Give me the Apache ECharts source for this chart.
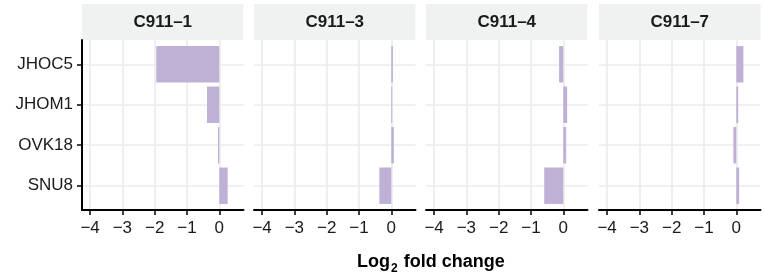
<!DOCTYPE html>
<html>
<head>
<meta charset="utf-8">
<script src="https://cdn.jsdelivr.net/npm/echarts@6/dist/echarts.min.js"></script>
<style>
  html, body { margin: 0; padding: 0; background: #fff; }
  #chart { width: 764px; height: 275px; }
</style>
</head>
<body>
<div id="chart"></div>
<script>
// data
const cellLines = ["JHOC5", "JHOM1", "OVK18", "SNU8"];
const panels = ["C911–1", "C911–3", "C911–4", "C911–7"];
const xTicks = [-4, -3, -2, -1, 0];
const fc_1 = [-1.95, -0.38, -0.04, 0.26];
const fc_3 = [0.05, 0.03, 0.08, -0.37];
const fc_4 = [-0.13, 0.12, 0.09, -0.59];
const fc_7 = [0.22, 0.06, -0.09, 0.09];
const values = [fc_1, fc_3, fc_4, fc_7];

const font = "'Liberation Sans', Arial, sans-serif";
const barColor = "#bfb0d6";
const gridColor = "#ebebeb";
const panelLeft = [82, 254, 426, 599];
const panelW = 161.5;
const plotTop = 40, plotH = 170;

const chart = echarts.init(document.getElementById("chart"));

const grids = [], xAxes = [], yAxes = [], series = [], graphics = [];
panels.forEach((name, i) => {
  grids.push({ left: panelLeft[i], top: plotTop, width: panelW, height: plotH });
  xAxes.push({
    type: "value", gridIndex: i, min: -4.25, max: 0.75,
    axisLine: { show: true, onZero: false, lineStyle: { color: "#000", width: 2 } },
    axisTick: { show: true, length: 5, customValues: xTicks, lineStyle: { color: "#000", width: 1.5 } },
    axisLabel: {
      customValues: xTicks, margin: 10, color: "#1a1a1a", fontSize: 17, fontFamily: font,
      formatter: v => (v < 0 ? "\u2212" + Math.abs(v) : String(v))
    },
    splitLine: { show: true, lineStyle: { color: gridColor, width: 1.6 } }
  });
  yAxes.push({
    type: "value", gridIndex: i, min: 0.4, max: 4.6, inverse: true,
    axisLine: { show: i === 0, onZero: false, lineStyle: { color: "#000", width: 2 } },
    axisTick: { show: i === 0, length: 5, customValues: [1, 2, 3, 4], lineStyle: { color: "#000", width: 1.5 } },
    axisLabel: {
      show: i === 0, customValues: [1, 2, 3, 4], margin: 9, color: "#1a1a1a", fontSize: 17, fontFamily: font,
      formatter: v => cellLines[Math.round(v) - 1] || ""
    },
    splitLine: { show: true, lineStyle: { color: gridColor, width: 1.6 } }
  });
  series.push({
    type: "custom", xAxisIndex: i, yAxisIndex: i,
    encode: { x: 0, y: 1 },
    data: values[i].map((v, k) => [v, k + 1]),
    renderItem: (params, api) => {
      const v = api.value(0), row = api.value(1);
      const p0 = api.coord([0, row]);
      const p1 = api.coord([v, row]);
      const h = api.size([0, 0.9])[1];
      return {
        type: "rect",
        shape: { x: Math.min(p0[0], p1[0]), y: p0[1] - h / 2, width: Math.abs(p1[0] - p0[0]), height: h },
        style: { fill: barColor }
      };
    }
  });
  // facet strip
  graphics.push({
    type: "rect", left: panelLeft[i], top: 4,
    shape: { width: panelW, height: 36 }, style: { fill: "#f0f1f1" }
  });
  graphics.push({
    type: "text", x: panelLeft[i] + panelW / 2, y: 22,
    style: { text: name, fill: "#1a1a1a", font: "bold 17px " + font, textAlign: "center", textVerticalAlign: "middle" }
  });
});

chart.setOption({
  animation: false,
  backgroundColor: "#fff",
  grid: grids,
  xAxis: xAxes,
  yAxis: yAxes,
  series: series,
  graphic: graphics,
  title: {
    text: "{a|Log}{b|2}{a| fold change}",
    left: 357, top: 253, padding: 0,
    textStyle: {
      rich: {
        a: { fontSize: 18, fontWeight: "bold", fontFamily: font, color: "#000", verticalAlign: "bottom" },
        b: { fontSize: 12, fontWeight: "bold", fontFamily: font, color: "#000", verticalAlign: "bottom", padding: [0, 1, -4, 1] }
      }
    }
  }
});
window.onresize = function () {
  chart.resize();
};
</script>
</body>
</html>
